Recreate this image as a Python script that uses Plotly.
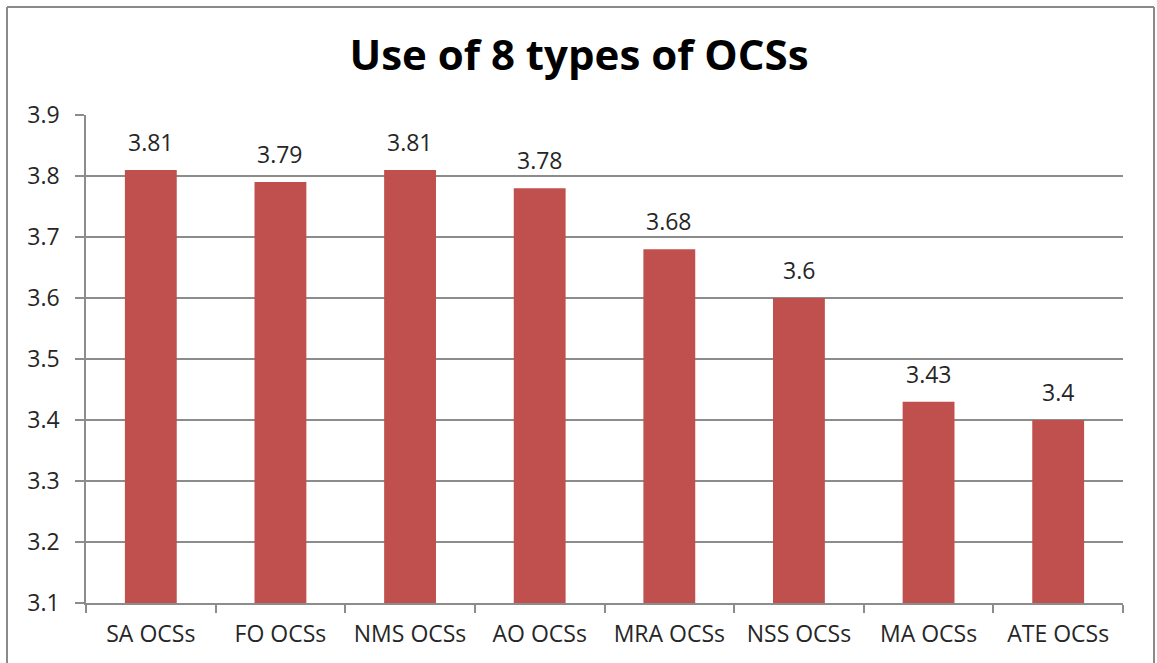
import plotly.graph_objects as go

categories = ["SA OCSs", "FO OCSs", "NMS OCSs", "AO OCSs", "MRA OCSs", "NSS OCSs", "MA OCSs", "ATE OCSs"]
values = [3.81, 3.79, 3.81, 3.78, 3.68, 3.6, 3.43, 3.4]
y_ticks = [3.1, 3.2, 3.3, 3.4, 3.5, 3.6, 3.7, 3.8, 3.9]
y_base = 3.1

W, H = 1157, 663
L, R, T, B = 86, 34, 115, 60
pw, ph = W - L - R, H - T - B

FONT = "Open Sans"
GRAY = "#8c8c8c"
TXT = "#262626"

fig = go.Figure()
fig.add_trace(go.Bar(
    x=categories, y=[v - y_base for v in values], base=y_base,
    marker=dict(color="#C0504D", line=dict(width=0)),
    width=0.4, hoverinfo="x+y",
))

for c, v in zip(categories, values):
    fig.add_annotation(x=c, y=v, text=f"{v:g}", showarrow=False,
                       yanchor="bottom", yshift=10,
                       font=dict(family=FONT, size=23, color=TXT))

def px(xp):
    return (xp - L) / pw

def py(yp):
    return (H - B - yp) / ph

# outer chart border
border = dict(color="#8a8a8a", width=2)
fig.add_shape(type="line", xref="paper", yref="paper", x0=px(7), x1=px(7), y0=py(7), y1=py(700), line=border)
fig.add_shape(type="line", xref="paper", yref="paper", x0=px(7), x1=px(1154), y0=py(7), y1=py(7), line=border)
fig.add_shape(type="line", xref="paper", yref="paper", x0=px(1154), x1=px(1154), y0=py(7), y1=py(700), line=border)

fig.update_layout(
    width=W, height=H,
    margin=dict(l=L, r=R, t=T, b=B, pad=0),
    paper_bgcolor="white", plot_bgcolor="white",
    showlegend=False,
    title=dict(text="<b>Use of 8 types of OCSs</b>", x=579 / W, xref="container", xanchor="center",
               y=1 - 55 / H, yanchor="middle",
               font=dict(family=FONT, size=42, color="#000000")),
    xaxis=dict(
        type="category", tickson="boundaries", ticks="outside", ticklen=8, tickwidth=1.5,
        tickcolor=GRAY, showline=True, linecolor=GRAY, linewidth=1.5, showgrid=False,
        ticklabelstandoff=10,
        tickfont=dict(family=FONT, size=23, color=TXT),
    ),
    yaxis=dict(
        range=[y_base, 3.9], tickvals=y_ticks, ticktext=[f"{t:.1f}" for t in y_ticks],
        ticks="outside", ticklen=9, tickwidth=1.5, tickcolor=GRAY,
        showline=True, linecolor=GRAY, linewidth=1.5,
        showgrid=True, gridcolor=GRAY, gridwidth=1.5, zeroline=False,
        ticklabelstandoff=11,
        tickfont=dict(family=FONT, size=23, color=TXT),
    ),
)

fig.write_html("out.html")
